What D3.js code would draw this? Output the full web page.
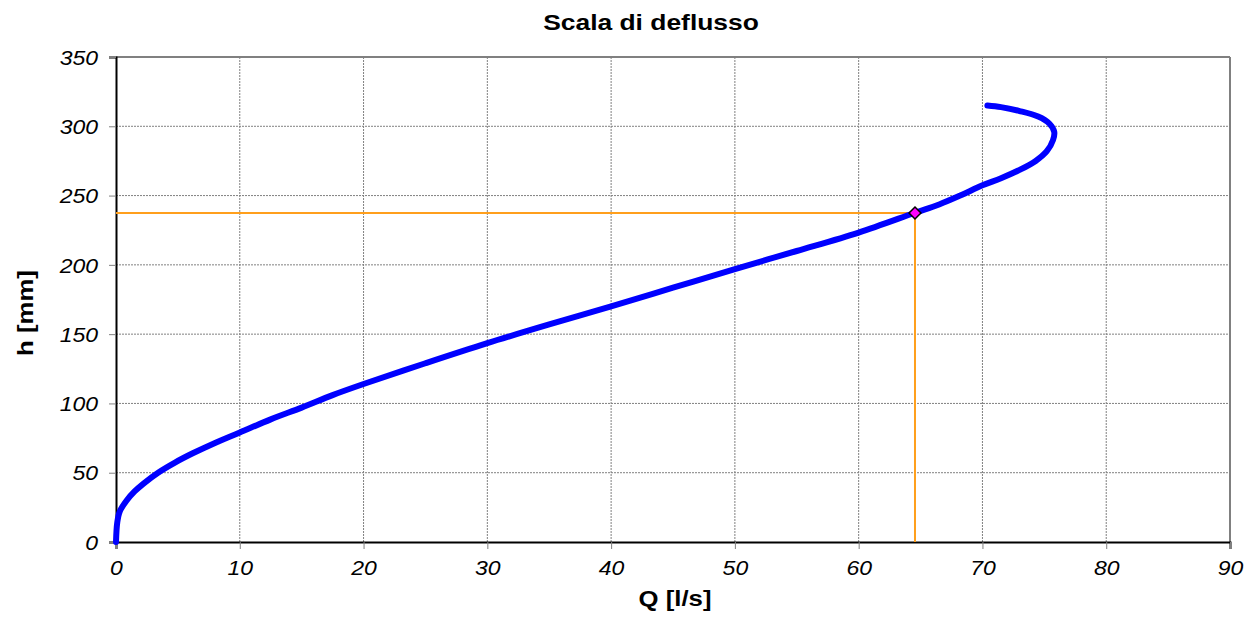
<!DOCTYPE html>
<html>
<head>
<meta charset="utf-8">
<script src="https://cdn.jsdelivr.net/npm/d3@7"></script>
<style>
body { margin:0; background:#ffffff; font-family:Arial, "Liberation Sans", sans-serif; }
svg text { fill:#000000; }
.grid line { stroke:#808080; stroke-width:1; stroke-dasharray:2,1; }
.tick text { font-style:italic; font-size:20px; font-family:Arial, "Liberation Sans", sans-serif; }
</style>
</head>
<body>
<svg id="viz" width="1254" height="617"></svg>
<script>
// rating curve: Q [l/s] vs h [mm]
var flowQ = [0, 0.1, 0.3, 0.86, 1.5, 2.2, 3.4, 4.8, 6.2, 8, 10, 12.5, 15, 17.5, 20, 25, 30, 35, 40, 45, 50, 55, 60, 64.5, 66.5, 68.2, 70, 71.5, 73, 74.3, 75.2, 75.7, 75.8, 75.4, 74.5, 73, 71.5, 70.4];
var depthH = [0, 14, 22, 30, 36.5, 42, 50, 57.5, 64, 71.5, 79, 88.5, 97, 106, 114, 129, 143.5, 157, 170, 183.5, 197, 210, 223.3, 237.4, 243.6, 250, 257.4, 262.5, 268.5, 275, 282, 290, 296, 302, 307, 311, 313.8, 315];
// working point and its guide lines
var pointQ = [64.55];
var pointH = [237.4];
var xTicks = [0, 10, 20, 30, 40, 50, 60, 70, 80, 90];
var yTicks = [0, 50, 100, 150, 200, 250, 300, 350];

var svg = d3.select("#viz");
var plotLeft = 116, plotRight = 1230, plotTop = 57, plotBottom = 542;
var xScale = d3.scaleLinear().domain([0, 90]).range([plotLeft, plotRight]);
var yScale = d3.scaleLinear().domain([0, 350]).range([plotBottom, plotTop]);

// the original font is a bit wider than Liberation Sans
function stretch(sel, k) {
	sel.each(function () {
		var w = this.getComputedTextLength();
		d3.select(this).attr("textLength", w * k).attr("lengthAdjust", "spacingAndGlyphs");
	});
}

// gridlines
svg.append("g").attr("class", "grid").selectAll("line").data(yTicks.slice(1, -1)).enter().append("line")
	.attr("x1", plotLeft).attr("x2", plotRight)
	.attr("y1", function (d) { return yScale(d); }).attr("y2", function (d) { return yScale(d); });
svg.append("g").attr("class", "grid").selectAll("line").data(xTicks.slice(1, -1)).enter().append("line")
	.attr("y1", plotTop).attr("y2", plotBottom)
	.attr("x1", function (d) { return xScale(d); }).attr("x2", function (d) { return xScale(d); });

// frame: grey top and right edges
svg.append("line").attr("x1", plotLeft).attr("x2", plotRight).attr("y1", plotTop).attr("y2", plotTop)
	.attr("stroke", "#808080").attr("stroke-width", 2);
svg.append("line").attr("x1", plotRight).attr("x2", plotRight).attr("y1", plotTop).attr("y2", plotBottom)
	.attr("stroke", "#808080").attr("stroke-width", 2);

// axes
var xAxis = d3.axisBottom(xScale).tickValues(xTicks).tickSizeOuter(0).tickSize(7).tickPadding(12);
var yAxis = d3.axisLeft(yScale).tickValues(yTicks).tickSizeOuter(0).tickSize(7).tickPadding(11);
var gx = svg.append("g").attr("transform", "translate(0," + plotBottom + ")").call(xAxis);
var gy = svg.append("g").attr("transform", "translate(" + plotLeft + ",0)").call(yAxis);
gx.select(".domain").attr("stroke", "#000").attr("stroke-width", 2);
gy.select(".domain").attr("stroke", "#000").attr("stroke-width", 2);
svg.selectAll(".tick line").attr("stroke", "#808080");
gx.selectAll(".tick text").attr("dy", "0.71em");
gy.selectAll(".tick text").attr("dy", "0.36em");
stretch(svg.selectAll(".tick text"), 1.15);

// orange guide lines
svg.append("path")
	.attr("d", "M" + xScale(0) + "," + yScale(pointH[0]) + " L" + xScale(pointQ[0]) + "," + yScale(pointH[0]) + " L" + xScale(pointQ[0]) + "," + yScale(0))
	.attr("fill", "none").attr("stroke", "#FF9F1C").attr("stroke-width", 2);

// the rating curve
var pts = flowQ.map(function (q, i) { return [q, depthH[i]]; });
var line = d3.line().x(function (d) { return xScale(d[0]); }).y(function (d) { return yScale(d[1]); })
	.curve(d3.curveCatmullRom.alpha(0.5));
svg.append("path").datum(pts).attr("d", line)
	.attr("fill", "none").attr("stroke", "#0000FF").attr("stroke-width", 6)
	.attr("stroke-linecap", "round").attr("stroke-linejoin", "round");

// marker
svg.selectAll(".marker").data(pointQ).enter().append("path").attr("class", "marker")
	.attr("d", d3.symbol().type(d3.symbolDiamond2).size(90))
	.attr("transform", function (d, i) { return "translate(" + xScale(d) + "," + yScale(pointH[i]) + ")"; })
	.attr("fill", "#FF00FF").attr("stroke", "#000").attr("stroke-width", 1.5);

// titles
var t1 = svg.append("text").text("Scala di deflusso").attr("x", 651).attr("y", 30)
	.attr("text-anchor", "middle").style("font-weight", "bold").style("font-size", "22px");
var t2 = svg.append("text").text("Q [l/s]").attr("x", 675).attr("y", 606)
	.attr("text-anchor", "middle").style("font-weight", "bold").style("font-size", "22px");
var t3 = svg.append("text").text("h [mm]").attr("transform", "translate(33,313)rotate(-90)")
	.attr("text-anchor", "middle").style("font-weight", "bold").style("font-size", "22px");
stretch(t1, 1.2);
stretch(t2, 1.17);
stretch(t3, 1.17);
</script>
</body>
</html>
